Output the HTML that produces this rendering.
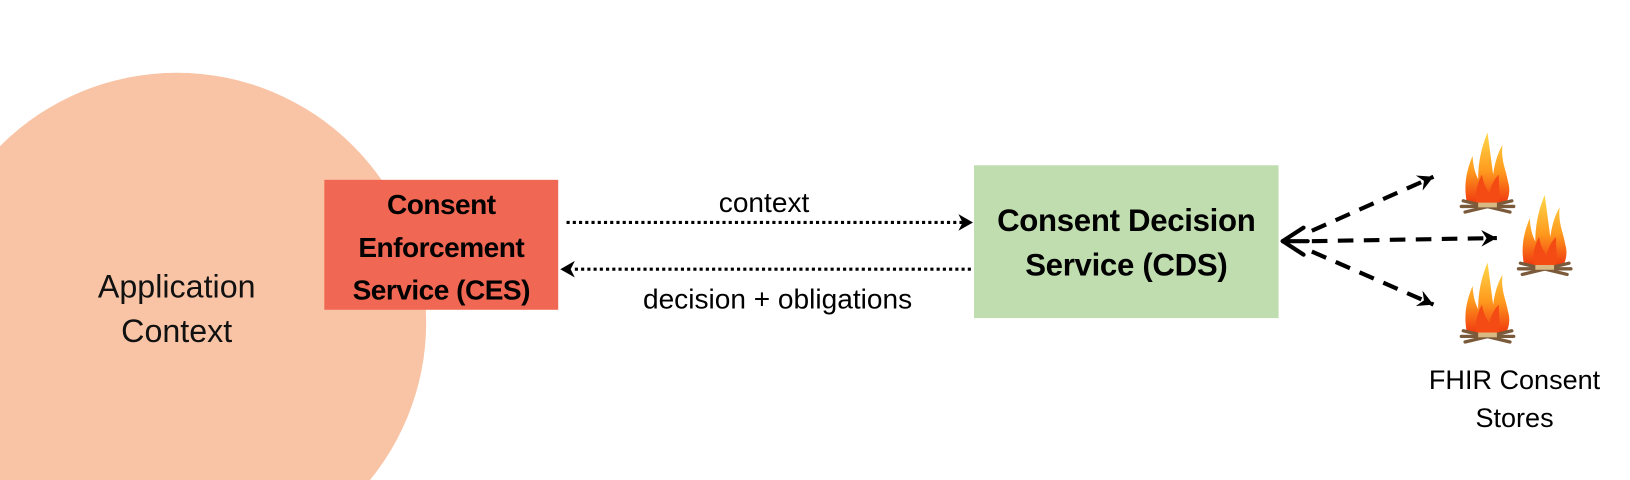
<!DOCTYPE html>
<html><head><style>
html,body{margin:0;padding:0;background:#fff;width:1630px;height:480px;overflow:hidden;font-family:"Liberation Sans",sans-serif;}
#o{position:relative;width:1630px;height:480px;overflow:hidden;}
#w{position:absolute;left:0;top:0;width:1568px;height:462px;overflow:hidden;transform:scale(1.0395);transform-origin:0 0;}
.abs{position:absolute;white-space:nowrap}
</style></head><body><div id="o"><div id="w">
<svg width="1568" height="462" style="position:absolute;left:0;top:0">
<defs>
<linearGradient id="fl" x1="0" y1="0" x2="0" y2="1">
<stop offset="0" stop-color="#ffd84a"/><stop offset="0.55" stop-color="#ff9a1e"/><stop offset="1" stop-color="#f03a10"/></linearGradient>
<g id="fire">
<path d="M-22,30 C-26,10 -22,-5 -16,-20 C-15,-5 -12,0 -10,5 C-10,-15 -6,-30 0,-45 C2,-30 4,-15 6,0 C8,-15 12,-25 16,-32 C14,-15 20,-5 22,8 C25,18 22,26 20,30 Z" fill="url(#fl)"/>
<path d="M-12,30 C-14,18 -10,8 -6,0 C-4,12 0,16 2,20 C4,10 8,4 12,0 C12,14 14,22 12,30 Z" fill="#f44a14"/>
<g stroke="#7a5a3a" stroke-width="3.5" stroke-linecap="round">
<line x1="-26" y1="28" x2="24" y2="40"/><line x1="-24" y1="40" x2="26" y2="28"/>
<line x1="-28" y1="34" x2="28" y2="34"/></g>
<rect x="-10" y="30" width="20" height="5" fill="#d9b983"/>
</g>
<marker id="ah" viewBox="-16 -9 18 18" markerWidth="18" markerHeight="18" refX="0" refY="0" orient="auto" markerUnits="userSpaceOnUse">
<path d="M0,0 L-15,-8 L-10,0 L-15,8 Z" fill="#000"/></marker>
</defs>
<circle cx="170" cy="310" r="240" fill="#f9c4a5"/>
<rect x="312" y="173" width="225" height="125" fill="#f06753"/>
<rect x="937" y="159" width="293" height="147" fill="#c0ddb0"/>
<g stroke="#000" stroke-width="3" stroke-dasharray="3,3" fill="none">
<line x1="545" y1="214" x2="928" y2="214"/>
<line x1="553" y1="259" x2="937" y2="259"/>
</g>
<path d="M936,214 L922,206 L926,214 L922,222 Z" fill="#000"/>
<path d="M539,259 L553,251 L549,259 L553,267 Z" fill="#000"/>
<g stroke="#000" stroke-width="4" stroke-dasharray="15,10" fill="none" marker-end="url(#ah)">
<line x1="1262" y1="222" x2="1379" y2="170"/>
<line x1="1262" y1="232" x2="1440" y2="229"/>
<line x1="1262" y1="242" x2="1379" y2="293"/>
</g>
<g stroke="#000" stroke-width="4" fill="none" stroke-linecap="round">
<line x1="1234" y1="232" x2="1254" y2="219"/>
<line x1="1234" y1="232" x2="1258" y2="232"/>
<line x1="1234" y1="232" x2="1254" y2="245"/>
</g>
<use href="#fire" transform="translate(1431,168) scale(0.9)"/>
<use href="#fire" transform="translate(1486,228) scale(0.9)"/>
<use href="#fire" transform="translate(1431,293) scale(0.9)"/>
</svg>
<div class="abs" style="left:70px;top:254px;width:200px;text-align:center;font-size:31px;line-height:43px;color:#111">Application<br>Context</div>
<div class="abs" style="left:312px;top:177px;width:225px;text-align:center;font-size:27px;font-weight:bold;line-height:41px;letter-spacing:-0.5px">Consent<br>Enforcement<br>Service (CES)</div>
<div class="abs" style="left:937px;top:191px;width:293px;text-align:center;font-size:30px;font-weight:bold;line-height:43px;letter-spacing:-0.3px">Consent Decision<br>Service (CDS)</div>
<div class="abs" style="left:635px;top:180px;width:200px;text-align:center;font-size:27px">context</div>
<div class="abs" style="left:568px;top:273px;width:360px;text-align:center;font-size:27px">decision + obligations</div>
<div class="abs" style="left:1357px;top:347px;width:200px;text-align:center;font-size:26px;line-height:37px">FHIR Consent<br>Stores</div>
</div></div></body></html>
